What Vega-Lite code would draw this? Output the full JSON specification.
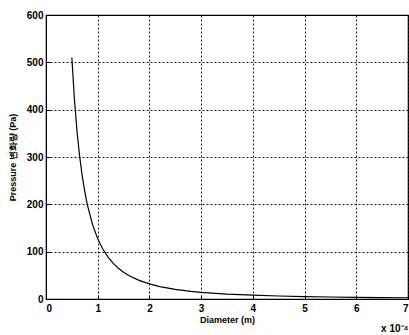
{
  "$schema": "https://vega.github.io/schema/vega-lite/v6.json",
  "autosize": {"type": "none"},
  "width": 362,
  "height": 284,
  "padding": {"left": 46, "top": 15, "right": 1, "bottom": 36},
  "background": "white",
  "config": {
    "font": "Liberation Sans",
    "view": {"stroke": "black", "strokeWidth": 1.2},
    "axis": {
      "labelFont": "Liberation Sans",
      "labelFontSize": 10,
      "labelFontWeight": "bold",
      "labelColor": "black",
      "titleFont": "Liberation Sans",
      "titleFontSize": 9,
      "titleFontWeight": "bold",
      "titleColor": "black",
      "domainColor": "black",
      "tickColor": "black",
      "gridColor": "black",
      "gridDash": [2, 2],
      "gridOpacity": 0.9,
      "gridWidth": 1
    }
  },
  "title": {
    "text": "x 10⁻⁴",
    "orient": "bottom",
    "anchor": "end",
    "fontSize": 10,
    "fontWeight": "bold",
    "font": "Liberation Sans",
    "color": "black",
    "offset": 0
  },
  "data": {
    "values": [
      {"d": 0.5, "p": 510},
      {"d": 0.55, "p": 421},
      {"d": 0.6, "p": 354},
      {"d": 0.65, "p": 302},
      {"d": 0.7, "p": 260},
      {"d": 0.75, "p": 227},
      {"d": 0.8, "p": 199},
      {"d": 0.9, "p": 157},
      {"d": 1.0, "p": 127.5},
      {"d": 1.1, "p": 105},
      {"d": 1.2, "p": 88.5},
      {"d": 1.3, "p": 75.4},
      {"d": 1.4, "p": 65},
      {"d": 1.5, "p": 56.7},
      {"d": 1.6, "p": 49.8},
      {"d": 1.8, "p": 39.4},
      {"d": 2.0, "p": 31.9},
      {"d": 2.2, "p": 26.3},
      {"d": 2.5, "p": 20.4},
      {"d": 2.8, "p": 16.3},
      {"d": 3.0, "p": 14.2},
      {"d": 3.5, "p": 10.4},
      {"d": 4.0, "p": 8.0},
      {"d": 4.5, "p": 6.3},
      {"d": 5.0, "p": 5.1},
      {"d": 5.5, "p": 4.2},
      {"d": 6.0, "p": 3.5},
      {"d": 6.5, "p": 3.0},
      {"d": 7.0, "p": 2.6}
    ]
  },
  "mark": {"type": "line", "color": "black", "strokeWidth": 1.2, "clip": true},
  "encoding": {
    "x": {
      "field": "d",
      "type": "quantitative",
      "scale": {"domain": [0, 7], "nice": false},
      "axis": {
        "title": "Diameter (m)",
        "values": [0, 1, 2, 3, 4, 5, 6, 7],
        "tickSize": -4,
        "labelPadding": 8,
        "titlePadding": 2
      }
    },
    "y": {
      "field": "p",
      "type": "quantitative",
      "scale": {"domain": [0, 600], "nice": false},
      "axis": {
        "title": "Pressure 변화량 (Pa)",
        "values": [0, 100, 200, 300, 400, 500, 600],
        "tickSize": -4,
        "labelPadding": 7,
        "titlePadding": 9
      }
    }
  }
}
